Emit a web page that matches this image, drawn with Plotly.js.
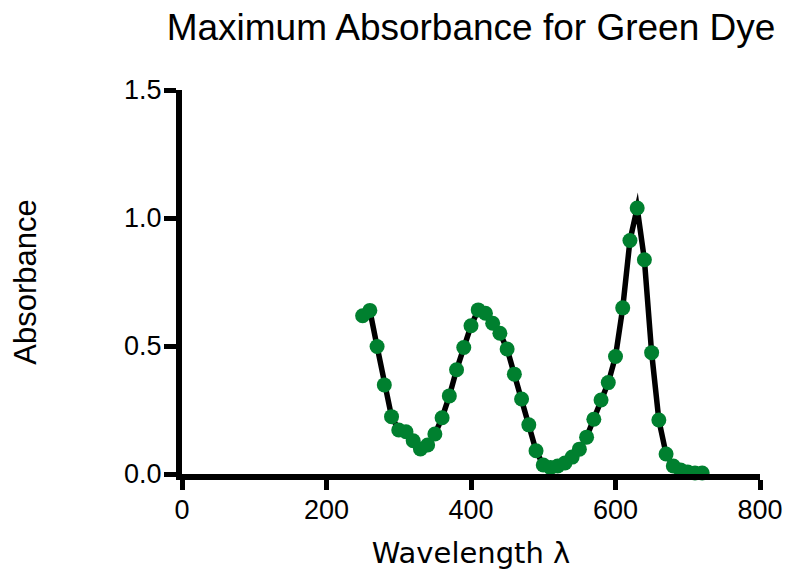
<!DOCTYPE html>
<html>
<head>
<meta charset="utf-8">
<script src="https://cdn.plot.ly/plotly-3.0.1.min.js"></script>
<style>
  html, body { margin: 0; padding: 0; background: #fff; }
  #chart { width: 786px; height: 577px; }
  .scatterlayer .js-line { stroke-linejoin: miter !important; stroke-miterlimit: 10 !important; }
</style>
</head>
<body>
<div id="chart"></div>
<script>
// Wavelength (nm)
const wavelength = [250, 260, 270, 280, 290, 300, 310, 320, 330, 340,
                    350, 360, 370, 380, 390, 400, 410, 420, 430, 440,
                    450, 460, 470, 480, 490, 500, 510, 520, 530, 540,
                    550, 560, 570, 580, 590, 600, 610, 620, 630, 640,
                    650, 660, 670, 680, 690, 700, 710, 720];
// Absorbance
const absorbance = [0.618, 0.639, 0.498, 0.348, 0.224, 0.172, 0.165, 0.130, 0.098, 0.113,
                    0.156, 0.220, 0.305, 0.407, 0.494, 0.579, 0.641, 0.628, 0.589, 0.550,
                    0.488, 0.390, 0.293, 0.192, 0.091, 0.035, 0.025, 0.031, 0.043, 0.066,
                    0.097, 0.144, 0.214, 0.289, 0.357, 0.459, 0.649, 0.912, 1.039, 0.837,
                    0.474, 0.211, 0.078, 0.031, 0.016, 0.008, 0.004, 0.004];
const xTicks = [0, 200, 400, 600, 800];
const yTicks = [0, 0.5, 1.0, 1.5];
const yTickText = ["0.0", "0.5", "1.0", "1.5"];

const trace = {
  x: wavelength,
  y: absorbance,
  type: 'scatter',
  mode: 'lines+markers',
  line: { color: '#000000', width: 5.5 },
  marker: { color: '#00802f', size: 15 },
  cliponaxis: false,
  hoverinfo: 'x+y'
};

const layout = {
  width: 786,
  height: 577,
  paper_bgcolor: '#ffffff',
  plot_bgcolor: '#ffffff',
  showlegend: false,
  margin: { l: 182, r: 26, t: 90, b: 103, pad: 0 },
  title: {
    text: 'Maximum Absorbance for Green Dye',
    font: { family: 'Liberation Sans, Arial, sans-serif', size: 37, color: '#000' },
    x: 0.5, xref: 'paper', xanchor: 'center',
    y: 0.953, yref: 'container', yanchor: 'middle'
  },
  xaxis: {
    range: [0, 800],
    tickvals: xTicks,
    ticktext: xTicks.map(String),
    showgrid: false,
    zeroline: false,
    showline: true,
    linecolor: '#000',
    linewidth: 6,
    ticks: 'outside',
    ticklen: 10,
    tickwidth: 5,
    tickcolor: '#000',
    ticklabelstandoff: -3,
    tickfont: { family: 'Liberation Sans, Arial, sans-serif', size: 27, color: '#000' },
    title: {
      text: 'Wavelength λ',
      font: { family: 'DejaVu Sans, sans-serif', size: 29, color: '#000' },
      standoff: 20
    }
  },
  yaxis: {
    range: [0, 1.5],
    tickvals: yTicks,
    ticktext: yTickText,
    showgrid: false,
    zeroline: false,
    showline: true,
    linecolor: '#000',
    linewidth: 6,
    ticks: 'outside',
    ticklen: 12,
    tickwidth: 5,
    tickcolor: '#000',
    ticklabelstandoff: -3,
    tickfont: { family: 'Liberation Sans, Arial, sans-serif', size: 27, color: '#000' },
    title: {
      text: 'Absorbance',
      font: { family: 'Liberation Sans, Arial, sans-serif', size: 31, color: '#000' },
      standoff: 80
    }
  }
};

Plotly.newPlot('chart', [trace], layout, { displayModeBar: false, staticPlot: true });
</script>
</body>
</html>
